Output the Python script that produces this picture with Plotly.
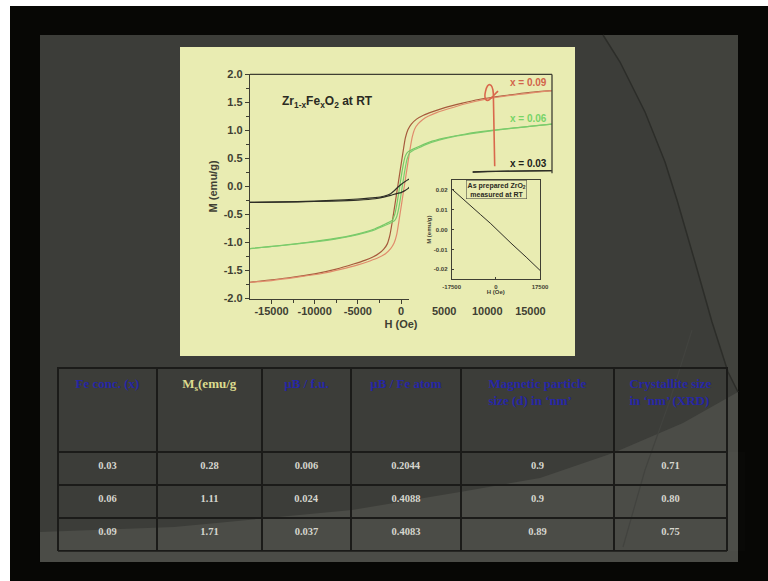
import plotly.graph_objects as go

W, H = 768, 581


def fx(px):
    return px / W


def fy(py):
    return 1 - py / H


def path(points, close=True):
    s = "M " + " L ".join(f"{fx(x):.5f},{fy(y):.5f}" for x, y in points)
    return s + (" Z" if close else "")


# ---------------- hysteresis loops, M (emu/g) vs H (Oe) ----------------
# x = 0.09
h09_down = [17500, 15000, 12000, 9000, 7000, 5000, 3600, 2600, 1800, 1200, 800, 500, 200, -100,
            -400, -700, -1000, -1300, -1600, -2000, -2500, -3200, -4200, -5500, -7500, -10000, -13000, -17500]
m09_down = [1.71, 1.68, 1.62, 1.55, 1.48, 1.40, 1.33, 1.27, 1.20, 1.11, 1.01, 0.86, 0.58, 0.28,
            -0.02, -0.32, -0.62, -0.88, -1.03, -1.12, -1.19, -1.255, -1.32, -1.385, -1.475, -1.56, -1.63, -1.71]
h09_up = [-17500, -15000, -12000, -9000, -7000, -5000, -3600, -2600, -1800, -1200, -800, -500, -200, 100,
          400, 700, 1000, 1300, 1600, 2000, 2500, 3200, 4200, 5500, 7500, 10000, 13000, 17500]
m09_up = [-1.71, -1.68, -1.62, -1.55, -1.48, -1.40, -1.33, -1.27, -1.20, -1.11, -1.01, -0.86, -0.58, -0.28,
          0.02, 0.32, 0.62, 0.88, 1.03, 1.12, 1.19, 1.255, 1.32, 1.385, 1.475, 1.56, 1.63, 1.71]

# x = 0.06
h06_down = [17500, 13500, 10000, 7500, 5000, 3300, 2200, 1400, 1000, 700, 500, 300, 100, -100,
            -300, -500, -700, -1000, -1400, -2000, -3000, -4500, -6500, -9000, -12500, -17500]
m06_down = [1.11, 1.05, 0.99, 0.935, 0.86, 0.79, 0.72, 0.665, 0.635, 0.60, 0.54, 0.42, 0.245, 0.05,
            -0.15, -0.335, -0.485, -0.60, -0.64, -0.685, -0.755, -0.83, -0.90, -0.96, -1.03, -1.11]
h06_up = [-17500, -13500, -10000, -7500, -5000, -3300, -2200, -1400, -1000, -700, -500, -300, -100, 100,
          300, 500, 700, 1000, 1400, 2000, 3000, 4500, 6500, 9000, 12500, 17500]
m06_up = [-1.11, -1.05, -0.99, -0.935, -0.86, -0.79, -0.72, -0.665, -0.635, -0.60, -0.54, -0.42, -0.245, -0.05,
          0.15, 0.335, 0.485, 0.60, 0.64, 0.685, 0.755, 0.83, 0.90, 0.96, 1.03, 1.11]

# x = 0.03
h03_down = [17500, 12000, 8000, 5000, 3000, 2000, 1200, 800, 400, 0, -400, -800, -1200, -2000,
            -3000, -5000, -8000, -12000, -17500]
m03_down = [0.28, 0.272, 0.26, 0.245, 0.22, 0.19, 0.15, 0.12, 0.08, 0.035, -0.02, -0.08, -0.13, -0.175,
            -0.20, -0.225, -0.25, -0.27, -0.285]
h03_up = [-17500, -12000, -8000, -5000, -3000, -2000, -1200, -800, -400, 0, 400, 800, 1200, 2000,
          3000, 5000, 8000, 12000, 17500]
m03_up = [-0.285, -0.275, -0.262, -0.245, -0.22, -0.19, -0.16, -0.14, -0.125, -0.11, -0.08, -0.04, 0.02, 0.12,
          0.18, 0.22, 0.25, 0.27, 0.28]

# as-prepared ZrO2 (inset)
h_zro2 = [-17500, -12000, -6000, -2000, 0, 2000, 6000, 12000, 17500]
m_zro2 = [0.0205, 0.0145, 0.0075, 0.003, 0.0005, -0.002, -0.0068, -0.0138, -0.0205]

# axis ticks
x_ticks = [-15000, -10000, -5000, 0, 5000, 10000, 15000]
x_ticktext = ["-15000", "-10000", "-5000", "0", "5000", "10000", "15000"]
y_ticks = [-2.0, -1.5, -1.0, -0.5, 0.0, 0.5, 1.0, 1.5, 2.0]
y_ticktext = ["-2.0", "-1.5", "-1.0", "-0.5", "0.0", "0.5", "1.0", "1.5", "2.0"]
inset_x_ticks = [-17500, 0, 17500]
inset_x_text = ["-17500", "0", "17500"]
inset_y_ticks = [-0.02, -0.01, 0.0, 0.01, 0.02]
inset_y_text = ["-0.02", "-0.01", "0.00", "0.01", "0.02"]

# ---------------- table ----------------
table_header = ["Fe conc. (x)", "M<sub>s</sub>(emu/g", "\u00b5B / f.u.", "\u00b5B / Fe atom",
                "Magnetic particle<br>size (d) in \u2018nm\u2019", "Crystallite size<br>in \u2018nm\u2019 (XRD)"]
fe_conc = ["0.03", "0.06", "0.09"]
ms_vals = ["0.28", "1.11", "1.71"]
mub_fu = ["0.006", "0.024", "0.037"]
mub_fe = ["0.2044", "0.4088", "0.4083"]
particle_size = ["0.9", "0.9", "0.89"]
crystallite_size = ["0.71", "0.80", "0.75"]

YELLOW = "#e9ecb2"
AXC = "#3f3f33"
SANS = "Liberation Sans"
SERIF = "Liberation Serif"

fig = go.Figure()

line_w = 1.2
fig.add_trace(go.Scatter(x=h09_down, y=m09_down, mode="lines", line=dict(color="#a65a3c", width=line_w, shape="spline", smoothing=0.6)))
fig.add_trace(go.Scatter(x=h09_up, y=m09_up, mode="lines", line=dict(color="#e08c6c", width=line_w, shape="spline", smoothing=0.6)))
fig.add_trace(go.Scatter(x=h06_down, y=m06_down, mode="lines", line=dict(color="#76c866", width=line_w, shape="spline", smoothing=0.6)))
fig.add_trace(go.Scatter(x=h06_up, y=m06_up, mode="lines", line=dict(color="#7ccc6c", width=line_w, shape="spline", smoothing=0.6)))
fig.add_trace(go.Scatter(x=h03_down, y=m03_down, mode="lines", line=dict(color="#2e2e26", width=line_w, shape="spline", smoothing=0.6)))
fig.add_trace(go.Scatter(x=h03_up, y=m03_up, mode="lines", line=dict(color="#2e2e26", width=line_w, shape="spline", smoothing=0.6)))

# pasted-over panel hiding the lower right part of the main loop plot
fig.add_trace(go.Scatter(x=[927, 18500, 18500, 8300, 8300, 927], y=[-2.3, -2.3, 0.235, 0.235, 0.3, 0.3],
                         mode="lines", fill="toself", fillcolor=YELLOW, line=dict(width=0),
                         hoverinfo="skip"))

# short bottom axis (only the visible part of the original frame)
fig.add_trace(go.Scatter(x=[-17500], y=[-2], xaxis="x3", yaxis="y", mode="markers",
                         marker=dict(opacity=0), hoverinfo="skip"))

# inset
fig.add_trace(go.Scatter(x=h_zro2, y=m_zro2, xaxis="x2", yaxis="y2", mode="lines",
                         line=dict(color="#2e2e26", width=1)))

x0, x1 = 250, 552
y0, y1 = 298.5, 74.3

tickfont = dict(family=SANS, size=11, color=AXC, weight="bold")
inset_font = dict(family=SANS, size=6, color=AXC, weight="bold")

fig.update_layout(
    width=W, height=H, margin=dict(l=0, r=0, t=0, b=0, pad=0, autoexpand=False),
    paper_bgcolor="#070705", plot_bgcolor="rgba(0,0,0,0)", showlegend=False,
    xaxis=dict(domain=[fx(x0), fx(x1)], range=[-17500, 17500], anchor="y", automargin=False,
               showline=False, showgrid=False, zeroline=False, ticks="",
               tickvals=x_ticks, ticktext=x_ticktext, tickfont=tickfont, ticklabelstandoff=4,
               title=dict(text="H (Oe)", font=dict(family=SANS, size=11, color=AXC, weight="bold"), standoff=4)),
    xaxis3=dict(domain=[fx(x0), fx(409)], range=[-17500, 927], anchor="y", automargin=False,
                showline=True, linecolor=AXC, linewidth=1.3, showgrid=False, zeroline=False,
                ticks="outside", ticklen=4, tickwidth=1.2, tickcolor=AXC,
                tickvals=[-15000, -10000, -5000, 0], showticklabels=False,
                minor=dict(ticks="outside", ticklen=3, tickwidth=1.1, tickcolor=AXC,
                           tickvals=[-12500, -7500, -2500])),
    yaxis=dict(domain=[fy(y0), fy(y1)], range=[-2, 2], anchor="x", automargin=False,
               showline=True, linecolor=AXC, linewidth=1.3, showgrid=False, zeroline=False,
               ticks="outside", ticklen=4, tickwidth=1.2, tickcolor=AXC,
               tickvals=y_ticks, ticktext=y_ticktext, tickfont=tickfont,
               minor=dict(ticks="outside", ticklen=3, tickwidth=1.1, tickcolor=AXC, dtick=0.25),
               title=dict(text="M (emu/g)", font=dict(family=SANS, size=11, color=AXC, weight="bold"), standoff=3)),
    xaxis2=dict(domain=[fx(451.7), fx(540)], range=[-17500, 17500], anchor="y2", automargin=False,
                showline=True, mirror=True, linecolor=AXC, linewidth=1, showgrid=False, zeroline=False,
                ticks="inside", ticklen=2, tickcolor=AXC, tickvals=inset_x_ticks, ticktext=inset_x_text,
                tickfont=inset_font, ticklabelstandoff=1,
                title=dict(text="H (Oe)", font=inset_font, standoff=1)),
    yaxis2=dict(domain=[fy(279.3), fy(180)], range=[-0.025, 0.025], anchor="x2", automargin=False,
                showline=True, mirror=True, linecolor=AXC, linewidth=1, showgrid=False, zeroline=False,
                ticks="inside", ticklen=2, tickcolor=AXC, tickvals=inset_y_ticks, ticktext=inset_y_text,
                tickfont=inset_font, ticklabelstandoff=2,
                title=dict(text="M (emu/g)", font=inset_font, standoff=1)),
)

# ---------------- slide background ----------------
shapes = [
    dict(type="rect", xref="paper", yref="paper", x0=0, x1=1, y0=fy(6), y1=1,
         fillcolor="white", line=dict(width=0), layer="below"),
    dict(type="rect", xref="paper", yref="paper", x0=0, x1=fx(10), y0=0, y1=1,
         fillcolor="white", line=dict(width=0), layer="below"),
    dict(type="rect", xref="paper", yref="paper", x0=fx(40), x1=fx(738), y0=fy(562), y1=fy(35),
         fillcolor="#3c3d39", line=dict(width=0), layer="below"),
]
arc_upper = [(603, 35), (620, 62), (645, 112), (665, 162), (677, 200), (695, 262), (712, 322),
             (728, 372), (738, 392)]
arc_lower = [(738, 392), (683, 423), (613, 453), (540, 478), (460, 492), (352, 510), (174, 527), (40, 532)]
shapes.append(dict(type="path", xref="paper", yref="paper",
                   path=path(arc_upper + [(738, 35)]), fillcolor="#41423d", line=dict(width=0), layer="below"))
shapes.append(dict(type="path", xref="paper", yref="paper",
                   path=path(arc_lower + [(40, 562), (738, 562)]), fillcolor="#4b4c47", line=dict(width=0), layer="below"))
shapes.append(dict(type="path", xref="paper", yref="paper", path=path(arc_upper, close=False),
                   line=dict(color="#2c2d29", width=1.5), layer="below"))
shapes.append(dict(type="path", xref="paper", yref="paper", path=path([(692, 330), (670, 400), (645, 470), (623, 547)], close=False),
                   line=dict(color="#42433f", width=1.2), layer="below"))
# yellow figure panel
shapes.append(dict(type="rect", xref="paper", yref="paper", x0=fx(180), x1=fx(575), y0=fy(356), y1=fy(47),
                   fillcolor=YELLOW, line=dict(width=0), layer="below"))
# remaining frame lines of the loop plot (top edge and upper right edge)
shapes.append(dict(type="line", xref="x domain", yref="y domain", x0=0, x1=1, y0=1, y1=1,
                   line=dict(color=AXC, width=1.3)))
shapes.append(dict(type="line", xref="x domain", yref="y", x0=1, x1=1, y0=0.235, y1=2,
                   line=dict(color=AXC, width=1.3)))
# hand-drawn red marking
shapes.append(dict(type="path", xref="x", yref="y",
                   path="M 10860,0.36 L 10700,1.66 C 10600,1.86 10050,1.86 9800,1.70 "
                        "C 9600,1.57 9850,1.50 10250,1.55 C 10650,1.60 10950,1.66 11250,1.70",
                   line=dict(color="#d9684c", width=1.6), layer="above"))
# closing line under the last table row
shapes.append(dict(type="line", xref="paper", yref="paper", x0=fx(58), x1=fx(727), y0=fy(551), y1=fy(551),
                   line=dict(color="#1b1b19", width=1.5)))
fig.update_layout(shapes=shapes)

ann = [
    dict(text="<b>Zr<sub>1-x</sub>Fe<sub>x</sub>O<sub>2</sub> at RT</b>", x=fx(280), y=fy(102),
         font=dict(family=SANS, size=12, color="#2a2a22")),
    dict(text="<b>x = 0.09</b>", x=fx(549), y=fy(83), xanchor="right",
         font=dict(family=SANS, size=10, color="#d2644a")),
    dict(text="<b>x = 0.06</b>", x=fx(549), y=fy(118), xanchor="right",
         font=dict(family=SANS, size=10, color="#78d468")),
    dict(text="<b>x = 0.03</b>", x=fx(549), y=fy(163), xanchor="right",
         font=dict(family=SANS, size=10, color="#22221a")),
    dict(text="<b>As prepared ZrO<sub>2</sub><br>measured at RT</b>", x=fx(496), y=fy(189),
         xanchor="center", font=dict(family=SANS, size=7, color="#2a2a22"),
         bordercolor="#55554a", borderwidth=0.6, borderpad=1),
]
for a in ann:
    a.setdefault("xref", "paper")
    a.setdefault("yref", "paper")
    a.setdefault("xanchor", "left")
    a.setdefault("yanchor", "middle")
    a["showarrow"] = False
fig.update_layout(annotations=ann)

# ---------------- data table ----------------
header_colors = ["#2626a6", "#dcdc8e", "#2626a6", "#2626a6", "#2626a6", "#2626a6"]
fig.add_trace(go.Table(
    domain=dict(x=[fx(58), fx(727)], y=[fy(551), fy(368)]),
    columnwidth=[99, 105, 89, 110, 153, 113],
    header=dict(values=[f"<b>{h}</b>" for h in table_header], height=84,
                fill=dict(color="rgba(0,0,0,0)"), line=dict(color="#1b1b19", width=1.5),
                align="center", font=dict(family=SERIF, size=13, color=header_colors)),
    cells=dict(values=[[f"<b>{v}</b>" for v in col] for col in
                       [fe_conc, ms_vals, mub_fu, mub_fe, particle_size, crystallite_size]],
               height=33, fill=dict(color="rgba(0,0,0,0)"), line=dict(color="#1b1b19", width=1.5),
               align="center", font=dict(family=SERIF, size=10.5, color="#d6d6ce")),
))

fig.write_html("out.html", post_script="document.body.style.margin='0';")
